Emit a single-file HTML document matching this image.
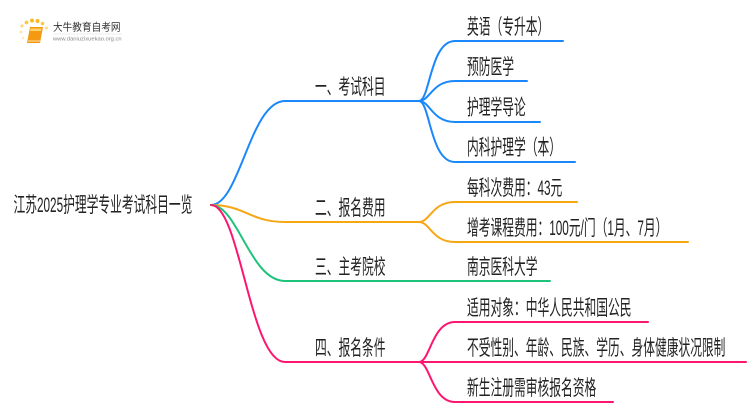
<!DOCTYPE html>
<html><head><meta charset="utf-8"><style>
html,body{margin:0;padding:0;background:#fff;}
svg{display:block;}
text{font-family:"Liberation Sans","Noto Sans CJK SC",sans-serif;fill:#222;}
</style></head><body>
<svg width="750" height="410" viewBox="0 0 750 410" xmlns="http://www.w3.org/2000/svg">
<!-- logo -->
<g>
<circle cx="22" cy="26" r="1.6" fill="#fcd980"/>
<circle cx="26.5" cy="22.5" r="1.9" fill="#fbc840"/>
<circle cx="32" cy="20.5" r="2" fill="#f9b924"/>
<circle cx="37.5" cy="21" r="2" fill="#f9b924"/>
<circle cx="42.5" cy="23.5" r="1.8" fill="#fbc840"/>
<circle cx="46.5" cy="28" r="1.5" fill="#fcd980"/>
<circle cx="21" cy="32" r="1.4" fill="#fde3a0"/>
<circle cx="23" cy="38" r="1.2" fill="#fde9b5"/>
<path d="M30 27 L43 27 L40 43 L27 43 Z" fill="#f39a12"/>
<path d="M30.5 28.5 L41.5 28.5 L41 31 L30 31 Z" fill="#fcd36b"/>
<path d="M28 41 L40 41" stroke="#fff3d6" stroke-width="0.8"/>
<text transform="translate(53,30.5) scale(0.92,1)" font-size="10.5" style="fill:#333">大牛教育自考网</text>
<line x1="53" y1="34" x2="122" y2="34" stroke="#ddd" stroke-width="0.6"/>
<text x="53" y="40.5" font-size="5.8" style="fill:#888">www.daniuzixuekao.org.cn</text>
</g>

<g fill="none" stroke-width="2" stroke-linecap="round">
<!-- main branches -->
<path d="M211 205 C240 205 250 101 285 101 L419 101" stroke="#1a88fb"/>
<path d="M211 205 C245 205 250 222 285 222 L419 222" stroke="#f5a716"/>
<path d="M211 205 C238 205 250 281 285 281 L550 281" stroke="#1ec27a"/>
<path d="M211 205 C240 205 250 362 285 362 L419 362" stroke="#fd1670"/>
<!-- branch 1 children -->
<path d="M419 101 C430 101 430 41 455 41 L563 41" stroke="#1a88fb"/>
<path d="M419 101 C430 101 432 81 455 81 L527 81" stroke="#1a88fb"/>
<path d="M419 101 C430 101 432 122 455 122 L540 122" stroke="#1a88fb"/>
<path d="M419 101 C430 101 430 162 455 162 L575 162" stroke="#1a88fb"/>
<!-- branch 2 children -->
<path d="M419 222 C430 222 432 202 455 202 L577 202" stroke="#f5a716"/>
<path d="M419 222 C430 222 432 242 455 242 L688 242" stroke="#f5a716"/>
<!-- branch 4 children -->
<path d="M419 362 C430 362 432 322 455 322 L648 322" stroke="#fd1670"/>
<path d="M419 362 L746 362" stroke="#fd1670"/>
<path d="M419 362 C430 362 432 402 455 402 L613 402" stroke="#fd1670"/>
</g>

<g font-size="21">
<text transform="translate(13.5,212) scale(0.56,1)">江苏2025护理学专业考试科目一览</text>

<text transform="translate(315,94) scale(0.56,1)">一、考试科目</text>
<text transform="translate(315,215) scale(0.56,1)">二、报名费用</text>
<text transform="translate(315,274) scale(0.56,1)">三、主考院校</text>
<text transform="translate(315,355) scale(0.56,1)">四、报名条件</text>

<text transform="translate(467,34) scale(0.56,1)">英语（专升本）</text>
<text transform="translate(467,74) scale(0.56,1)">预防医学</text>
<text transform="translate(467,114.5) scale(0.56,1)">护理学导论</text>
<text transform="translate(467,154.5) scale(0.56,1)">内科护理学（本）</text>

<text transform="translate(467,195) scale(0.56,1)">每科次费用：43元</text>
<text transform="translate(467,235) scale(0.56,1)">增考课程费用：100元/门（1月、7月）</text>

<text transform="translate(467,274) scale(0.56,1)">南京医科大学</text>

<text transform="translate(467,315) scale(0.56,1)">适用对象：中华人民共和国公民</text>
<text transform="translate(467,355) scale(0.56,1)">不受性别、年龄、民族、学历、身体健康状况限制</text>
<text transform="translate(467,395) scale(0.56,1)">新生注册需审核报名资格</text>
</g>
</svg>
</body></html>
